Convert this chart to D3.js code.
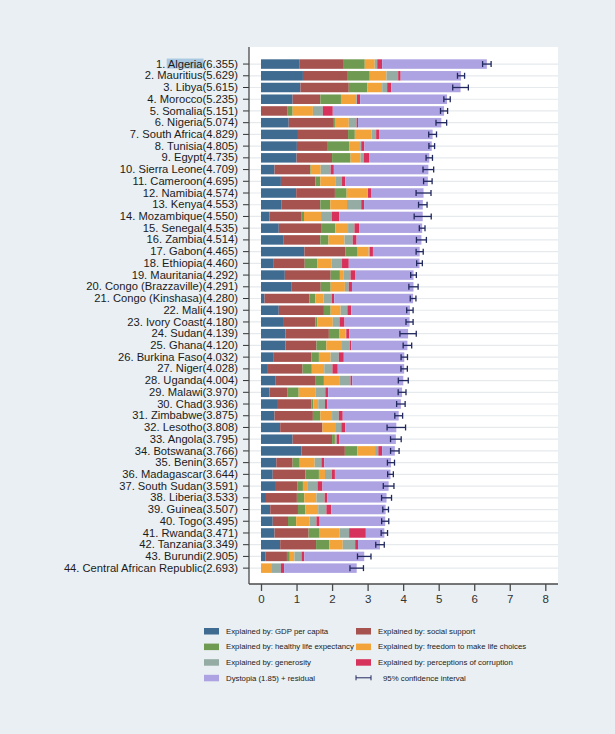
<!DOCTYPE html>
<html>
<head>
<meta charset="utf-8">
<script src="https://cdn.jsdelivr.net/npm/d3@7"></script>
<style>
  body { margin: 0; background: #e9eff2; }
  text { font-family: "Liberation Sans", Arial, sans-serif; }
</style>
</head>
<body>
<div id="chart"></div>
<script>
// Happiness ranking, African countries - stacked components

const width = 615,
    height = 734;

const countries = ["Algeria", "Mauritius", "Libya", "Morocco", "Somalia", "Nigeria", "South Africa", "Tunisia",
  "Egypt", "Sierra Leone", "Cameroon", "Namibia", "Kenya", "Mozambique", "Senegal", "Zambia", "Gabon",
  "Ethiopia", "Mauritania", "Congo (Brazzaville)", "Congo (Kinshasa)", "Mali", "Ivory Coast", "Sudan",
  "Ghana", "Burkina Faso", "Niger", "Uganda", "Malawi", "Chad", "Zimbabwe", "Lesotho", "Angola",
  "Botswana", "Benin", "Madagascar", "South Sudan", "Liberia", "Guinea", "Togo", "Rwanda", "Tanzania",
  "Burundi", "Central African Republic"];

const scores = [6.355, 5.629, 5.615, 5.235, 5.151, 5.074, 4.829, 4.805, 4.735, 4.709, 4.695, 4.574, 4.553,
  4.550, 4.535, 4.514, 4.465, 4.460, 4.292, 4.291, 4.280, 4.190, 4.180, 4.139, 4.120, 4.032, 4.028, 4.004,
  3.970, 3.936, 3.875, 3.808, 3.795, 3.766, 3.657, 3.644, 3.591, 3.533, 3.507, 3.495, 3.471, 3.349, 2.905, 2.693];

const gdp = [1.09, 1.18, 1.11, 0.89, 0, 0.78, 1.04, 1.01, 1.00, 0.38, 0.56, 0.99, 0.57, 0.24, 0.50, 0.64, 1.22,
  0.36, 0.67, 0.85, 0.10, 0.50, 0.62, 0.69, 0.69, 0.36, 0.17, 0.40, 0.24, 0.45, 0.38, 0.54, 0.89, 1.14, 0.43,
  0.33, 0.42, 0.14, 0.26, 0.33, 0.38, 0.54, 0.12, 0];
const social = [1.24, 1.24, 1.36, 0.78, 0.75, 1.27, 1.41, 0.87, 1.00, 1.00, 0.97, 1.09, 1.10, 0.89, 1.19, 1.03,
  1.15, 0.87, 1.29, 0.83, 1.26, 1.27, 0.91, 1.22, 0.87, 1.06, 1.00, 1.14, 0.51, 0.97, 1.08, 1.19, 1.11, 1.22,
  0.46, 0.92, 0.61, 0.87, 0.78, 0.43, 0.96, 1.01, 0.61, 0];
const health = [0.59, 0.64, 0.52, 0.58, 0.14, 0.03, 0.19, 0.60, 0.52, 0.02, 0.14, 0.33, 0.28, 0.08, 0.40, 0.23,
  0.35, 0.35, 0.26, 0.28, 0.17, 0.19, 0.05, 0.30, 0.28, 0.21, 0.26, 0.23, 0.31, 0.05, 0.21, 0.00, 0.08, 0.35,
  0.20, 0.38, 0.15, 0.21, 0.21, 0.23, 0.31, 0.37, 0.08, 0];
const freedom = [0.28, 0.47, 0.42, 0.43, 0.57, 0.39, 0.47, 0.31, 0.28, 0.28, 0.42, 0.58, 0.47, 0.48, 0.36, 0.45,
  0.31, 0.40, 0.11, 0.40, 0.23, 0.28, 0.44, 0.17, 0.44, 0.33, 0.35, 0.45, 0.47, 0.14, 0.33, 0.38, 0.03, 0.50,
  0.42, 0.17, 0.14, 0.34, 0.36, 0.38, 0.56, 0.38, 0.13, 0.31];
const generosity = [0.07, 0.33, 0.14, 0.02, 0.28, 0.22, 0.13, 0.03, 0.09, 0.28, 0.19, 0.02, 0.40, 0.30, 0.18,
  0.23, 0.03, 0.30, 0.19, 0.11, 0.23, 0.19, 0.19, 0.02, 0.22, 0.23, 0.23, 0.30, 0.28, 0.19, 0.19, 0.15, 0.02,
  0.09, 0.19, 0.19, 0.27, 0.23, 0.23, 0.19, 0.27, 0.35, 0.20, 0.25];
const corruption = [0.14, 0.07, 0.12, 0.09, 0.28, 0.04, 0.08, 0.09, 0.15, 0.09, 0.09, 0.10, 0.08, 0.21, 0.13,
  0.11, 0.09, 0.19, 0.14, 0.09, 0.07, 0.11, 0.14, 0.08, 0.04, 0.14, 0.15, 0.05, 0.08, 0.07, 0.11, 0.11, 0.08,
  0.11, 0.08, 0.09, 0.14, 0.08, 0.14, 0.09, 0.47, 0.08, 0.08, 0.09];
const dystopia = [2.945, 1.699, 1.945, 2.445, 3.131, 2.344, 1.509, 1.895, 1.695, 2.659, 2.325, 1.464, 1.653,
  2.350, 1.775, 1.824, 1.315, 1.990, 1.632, 1.731, 2.220, 1.650, 1.830, 1.659, 1.580, 1.702, 1.868, 1.434,
  2.080, 2.066, 1.575, 1.438, 1.585, 0.356, 1.877, 1.564, 1.861, 1.663, 1.527, 1.845, 0.521, 0.619, 1.685, 2.043];
// half width of the 95% confidence interval
const ciHalf = [0.12, 0.10, 0.22, 0.09, 0.10, 0.15, 0.11, 0.08, 0.09, 0.15, 0.12, 0.21, 0.12, 0.24, 0.08, 0.14,
  0.10, 0.08, 0.08, 0.13, 0.08, 0.09, 0.10, 0.23, 0.12, 0.09, 0.09, 0.14, 0.11, 0.12, 0.11, 0.26, 0.15, 0.12,
  0.10, 0.08, 0.15, 0.14, 0.08, 0.10, 0.09, 0.12, 0.19, 0.19];

const xTicks = [0, 1, 2, 3, 4, 5, 6, 7, 8];

const keys = ["gdp", "social", "health", "freedom", "generosity", "corruption", "dystopia"];
const keyLabels = ["Explained by: GDP per capita", "Explained by: social support",
  "Explained by: healthy life expectancy", "Explained by: freedom to make life choices",
  "Explained by: generosity", "Explained by: perceptions of corruption", "Dystopia (1.85) + residual"];
const keyColors = ["#406b91", "#a6524f", "#6f9a52", "#f2a33a", "#94aca4", "#d6325c", "#ada3e2"];
const ciColor = "#22295e";

// build the rows for d3.stack
let rows = countries.map((c, i) => ({
  country: c, rank: i + 1, score: scores[i],
  gdp: gdp[i], social: social[i], health: health[i], freedom: freedom[i],
  generosity: generosity[i], corruption: corruption[i], dystopia: dystopia[i]
}));

let svg = d3.select("#chart")
  .append("svg")
    .attr("width", width)
    .attr("height", height)
    .style("display", "block");

svg.append("rect")
  .attr("width", width).attr("height", height)
  .attr("fill", "#e9eff2");

// plot region
const plotL = 249, plotR = 558, plotT = 47, plotB = 584;

svg.append("rect")
  .attr("x", plotL).attr("y", plotT)
  .attr("width", plotR - plotL).attr("height", plotB - plotT)
  .attr("fill", "white");

let x = d3.scaleLinear()
  .domain([0, 8])
  .range([261, 545.3]);

let y = d3.scaleBand()
  .domain(countries)
  .range([58.2, 574.0])
  .paddingInner(0.19)
  .paddingOuter(0.095);

// gridlines
svg.append("g")
  .selectAll("line")
  .data(countries)
  .join("line")
    .attr("x1", plotL).attr("x2", plotR)
    .attr("y1", d => y(d) + y.bandwidth() / 2)
    .attr("y2", d => y(d) + y.bandwidth() / 2)
    .attr("stroke", "#e6eaec")
    .attr("stroke-width", 1.2);

// stacked bars
let stack = d3.stack().keys(keys);
let series = stack(rows);
let color = d3.scaleOrdinal().domain(keys).range(keyColors);

svg.append("g")
  .selectAll("g")
  .data(series)
  .join("g")
    .attr("fill", d => color(d.key))
  .selectAll("rect")
  .data(d => d)
  .join("rect")
    .attr("x", d => x(d[0]))
    .attr("y", d => y(d.data.country))
    .attr("width", d => Math.max(0, x(d[1]) - x(d[0])))
    .attr("height", y.bandwidth());

// confidence intervals
let ci = svg.append("g")
  .attr("stroke", ciColor)
  .attr("stroke-width", 1.3)
  .selectAll("g")
  .data(rows)
  .join("g")
    .attr("transform", d => `translate(0, ${y(d.country) + y.bandwidth() / 2})`);

ci.append("line")
  .attr("x1", (d, i) => x(d.score - ciHalf[i]))
  .attr("x2", (d, i) => x(d.score + ciHalf[i]));
ci.append("line")
  .attr("x1", (d, i) => x(d.score - ciHalf[i]))
  .attr("x2", (d, i) => x(d.score - ciHalf[i]))
  .attr("y1", -3).attr("y2", 3);
ci.append("line")
  .attr("x1", (d, i) => x(d.score + ciHalf[i]))
  .attr("x2", (d, i) => x(d.score + ciHalf[i]))
  .attr("y1", -3).attr("y2", 3);

// y axis with rank labels
let yAxis = d3.axisLeft(y)
  .tickSize(6)
  .tickPadding(5)
  .tickFormat((d, i) => `${i + 1}. ${d}(${scores[i].toFixed(3)})`);

let gy = svg.append("g")
  .attr("transform", `translate(${plotL}, 0)`)
  .call(yAxis);
gy.select(".domain").remove();
gy.selectAll(".tick line").attr("stroke", "#333").attr("stroke-width", 1);
gy.selectAll(".tick text")
  .attr("font-size", 11.2)
  .attr("font-family", "Liberation Sans, Arial, sans-serif")
  .attr("fill", "#1b1b1b");

svg.append("line")
  .attr("x1", plotL).attr("x2", plotL)
  .attr("y1", plotT).attr("y2", plotB)
  .attr("stroke", "#4a4a4a").attr("stroke-width", 1.3);

// highlight behind the first country name
let firstLabel = gy.select(".tick text").node();
if (firstLabel) {
  let prefix = "1. ".length;
  let start = firstLabel.getStartPositionOfChar(prefix);
  let len = firstLabel.getSubStringLength(prefix, countries[0].length);
  let t = d3.select(firstLabel.parentNode);
  t.insert("rect", "text")
    .attr("x", start.x - 1)
    .attr("y", -5.5)
    .attr("width", len + 2)
    .attr("height", 10)
    .attr("fill", "#a9c8e2");
}

// x axis
let xAxis = d3.axisBottom(x)
  .tickValues(xTicks)
  .tickSize(7)
  .tickPadding(4)
  .tickFormat(d3.format("d"));

let gx = svg.append("g")
  .attr("transform", `translate(0, ${plotB})`)
  .call(xAxis);
gx.select(".domain").remove();
gx.selectAll(".tick line").attr("stroke", "#4a4a4a").attr("stroke-width", 1.3);
gx.selectAll(".tick text")
  .attr("font-size", 11.5)
  .attr("font-family", "Liberation Sans, Arial, sans-serif")
  .attr("fill", "#333");

svg.append("line")
  .attr("x1", plotL).attr("x2", plotR)
  .attr("y1", plotB).attr("y2", plotB)
  .attr("stroke", "#4a4a4a").attr("stroke-width", 1.3);

// legend
const legendItems = keyLabels.map((l, i) => ({label: l, color: keyColors[i], ci: false}));
legendItems.push({label: "95% confidence interval", color: ciColor, ci: true});

let legend = svg.append("g")
  .selectAll("g")
  .data(legendItems)
  .join("g")
    .attr("transform", (d, i) => `translate(${i % 2 === 0 ? 204 : 356}, ${631 + Math.floor(i / 2) * 15.6})`);

legend.filter(d => !d.ci)
  .append("rect")
    .attr("x", 0).attr("y", -3)
    .attr("width", 15).attr("height", 6.5)
    .attr("fill", d => d.color);

let ciKey = legend.filter(d => d.ci);
ciKey.append("line").attr("x1", 0).attr("x2", 15).attr("stroke", ciColor);
ciKey.append("line").attr("x1", 0).attr("x2", 0).attr("y1", -2.5).attr("y2", 2.5).attr("stroke", ciColor);
ciKey.append("line").attr("x1", 15).attr("x2", 15).attr("y1", -2.5).attr("y2", 2.5).attr("stroke", ciColor);

legend.append("text")
  .attr("x", d => (d.ci ? 27 : 22))
  .attr("dy", "0.35em")
  .attr("font-size", 7.8)
  .attr("fill", "#222")
  .text(d => d.label);
</script>
</body>
</html>
